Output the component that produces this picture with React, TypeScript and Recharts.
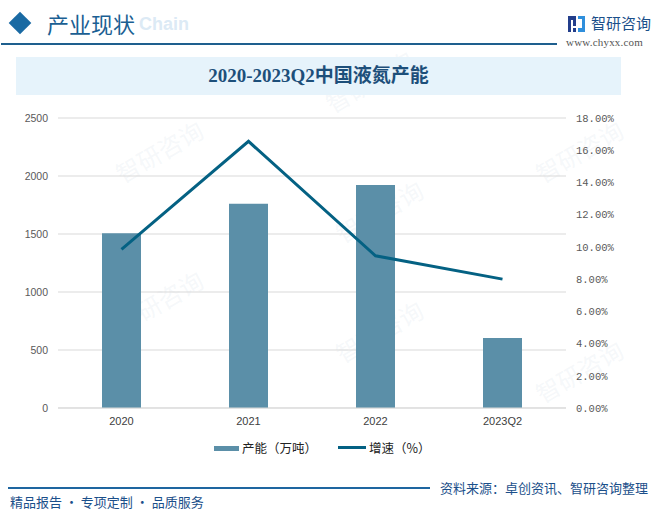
import React from "react";
import { ComposedChart, Bar, Line, XAxis, YAxis, CartesianGrid } from "recharts";

const categories = ["2020", "2021", "2022", "2023Q2"];
const capacity = [1506, 1760, 1922, 603];
const growth = [9.85, 16.55, 9.45, 8.0];
const leftTicks = [0, 500, 1000, 1500, 2000, 2500];
const rightTicks = [0, 2, 4, 6, 8, 10, 12, 14, 16, 18];
const seriesNames = ["产能（万吨）", "增速（%）"];

const BAR_COLOR = "#5b8fa8";
const LINE_COLOR = "#046183";

const data = categories.map((c, i) => ({ cat: c, cap: capacity[i], gr: growth[i] }));

const watermarks = [
  { x: 160, y: 150 }, { x: 370, y: 80 }, { x: 160, y: 300 },
  { x: 380, y: 210 }, { x: 380, y: 330 }, { x: 580, y: 150 }, { x: 580, y: 370 },
];

export default function App() {
  const sans = "'Liberation Sans', Arial, 'Noto Sans CJK SC', sans-serif";
  return (
    <div
      style={{
        position: "absolute",
        left: 0,
        top: 0,
        width: 660,
        height: 515,
        background: "#ffffff",
        overflow: "hidden",
        fontFamily: sans,
      }}
    >
      {/* watermarks */}
      {watermarks.map((w, i) => (
        <div
          key={i}
          style={{
            position: "absolute",
            left: w.x - 50,
            top: w.y - 20,
            width: 110,
            fontSize: 24,
            fontFamily: "'Noto Sans CJK SC', sans-serif",
            color: "rgba(190,205,222,0.15)",
            transform: "rotate(-30deg)",
            whiteSpace: "nowrap",
          }}
        >
          智研咨询
        </div>
      ))}

      {/* header */}
      <div
        style={{
          position: "absolute",
          left: 12,
          top: 15,
          width: 16,
          height: 16,
          background: "#1a6aa3",
          transform: "rotate(45deg)",
        }}
      />
      <div
        style={{
          position: "absolute",
          left: 139,
          top: 14,
          fontSize: 18,
          fontWeight: "bold",
          color: "#dceaf5",
          fontFamily: sans,
          whiteSpace: "nowrap",
        }}
      >
        Chain
      </div>
      <div
        style={{
          position: "absolute",
          left: 47,
          top: 9,
          fontSize: 22,
          color: "#1b5f93",
          fontFamily: "'Noto Sans CJK SC', sans-serif",
          lineHeight: "28px",
          whiteSpace: "nowrap",
        }}
      >
        产业现状
      </div>
      <div style={{ position: "absolute", left: 1, top: 43, width: 556, height: 1.5, background: "#1e5f8e" }} />

      {/* logo */}
      <svg style={{ position: "absolute", left: 568, top: 16 }} width={17} height={16}>
        <rect x={0} y={0} width={8} height={4} fill="#233e8b" />
        <rect x={0} y={0} width={3} height={16} fill="#233e8b" />
        <rect x={5} y={4} width={3} height={6} fill="#233e8b" />
        <rect x={10} y={0} width={7} height={3} fill="#2f8fdc" />
        <rect x={14} y={0} width={3} height={16} fill="#2f8fdc" />
        <rect x={10} y={12} width={7} height={4} fill="#2f8fdc" />
        <rect x={5} y={12} width={3} height={4} fill="#233e8b" />
      </svg>
      <div
        style={{
          position: "absolute",
          left: 591,
          top: 13,
          fontSize: 15,
          color: "#1b4f8a",
          fontFamily: "'Noto Sans CJK SC', sans-serif",
          lineHeight: "20px",
          whiteSpace: "nowrap",
        }}
      >
        智研咨询
      </div>
      <div
        style={{
          position: "absolute",
          left: 566,
          top: 36,
          fontSize: 11,
          color: "#555",
          fontFamily: "'Liberation Serif', serif",
          whiteSpace: "nowrap",
          letterSpacing: 0.2,
        }}
      >
        www.chyxx.com
      </div>

      {/* title band */}
      <div
        style={{
          position: "absolute",
          left: 16,
          top: 57,
          width: 605,
          height: 38,
          background: "#e6f3fb",
        }}
      />
      <div
        style={{
          position: "absolute",
          left: 16,
          top: 57,
          width: 605,
          height: 38,
          lineHeight: "38px",
          textAlign: "center",
          fontSize: 19,
          fontWeight: "bold",
          color: "#1d4f7a",
          fontFamily: "'Liberation Serif', 'Noto Sans CJK SC', serif",
          whiteSpace: "nowrap",
        }}
      >
        2020-2023Q2中国液氮产能
      </div>

      {/* chart */}
      <div style={{ position: "absolute", left: 0, top: 0 }}>
        <ComposedChart
          width={660}
          height={515}
          data={data}
          margin={{ top: 118, right: 0, bottom: 77, left: 0 }}
          barCategoryGap="0%"
        >
          <CartesianGrid yAxisId="left" vertical={false} stroke="#d9d9d9" ticks={leftTicks} />
          <XAxis
            dataKey="cat"
            height={30}
            axisLine={{ stroke: "#d9d9d9" }}
            tickLine={false}
            tickSize={0}
            tickMargin={9}
            tick={{ fontSize: 11, fill: "#404040", fontFamily: sans }}
          />
          <YAxis
            yAxisId="left"
            width={58}
            domain={[0, 2500]}
            ticks={leftTicks}
            axisLine={false}
            tickLine={false}
            tickSize={0}
            tickMargin={10}
            tick={{ fontSize: 10.5, fill: "#595959", fontFamily: sans }}
          />
          <YAxis
            yAxisId="right"
            orientation="right"
            width={94}
            domain={[0, 18]}
            ticks={rightTicks}
            axisLine={false}
            tickLine={false}
            tickSize={0}
            tickMargin={10}
            tickFormatter={(v: number) => `${v.toFixed(2)}%`}
            tick={{ fontSize: 10.5, fill: "#595959", fontFamily: "'Liberation Mono', monospace" }}
          />
          <Bar yAxisId="left" dataKey="cap" fill={BAR_COLOR} barSize={39} isAnimationActive={false} />
          <Line
            yAxisId="right"
            dataKey="gr"
            stroke={LINE_COLOR}
            strokeWidth={3}
            dot={false}
            activeDot={false}
            type="linear"
            isAnimationActive={false}
          />
        </ComposedChart>
      </div>

      {/* legend */}
      <div style={{ position: "absolute", left: 214, top: 446, width: 25, height: 5, background: BAR_COLOR }} />
      <div
        style={{
          position: "absolute",
          left: 242,
          top: 439,
          fontSize: 12.5,
          color: "#222",
          fontFamily: "'Noto Sans CJK SC', sans-serif",
          lineHeight: "18px",
          whiteSpace: "nowrap",
        }}
      >
        {seriesNames[0]}
      </div>
      <div style={{ position: "absolute", left: 338, top: 446, width: 28, height: 3, background: LINE_COLOR }} />
      <div
        style={{
          position: "absolute",
          left: 369,
          top: 439,
          fontSize: 12.5,
          color: "#222",
          fontFamily: "'Noto Sans CJK SC', sans-serif",
          lineHeight: "18px",
          whiteSpace: "nowrap",
        }}
      >
        {seriesNames[1]}
      </div>

      {/* footer */}
      <div style={{ position: "absolute", left: 8, top: 487, width: 422, height: 1.5, background: "#1e66a0" }} />
      <div
        style={{
          position: "absolute",
          left: 440,
          top: 479,
          fontSize: 13,
          color: "#1b4f8a",
          fontFamily: "'Noto Sans CJK SC', sans-serif",
          lineHeight: "18px",
          whiteSpace: "nowrap",
        }}
      >
        资料来源：卓创资讯、智研咨询整理
      </div>
      <div
        style={{
          position: "absolute",
          left: 10,
          top: 493,
          fontSize: 13,
          color: "#1b4f8a",
          fontFamily: "'Noto Sans CJK SC', sans-serif",
          lineHeight: "18px",
          whiteSpace: "nowrap",
        }}
      >
        精品报告 · 专项定制 · 品质服务
      </div>
    </div>
  );
}
